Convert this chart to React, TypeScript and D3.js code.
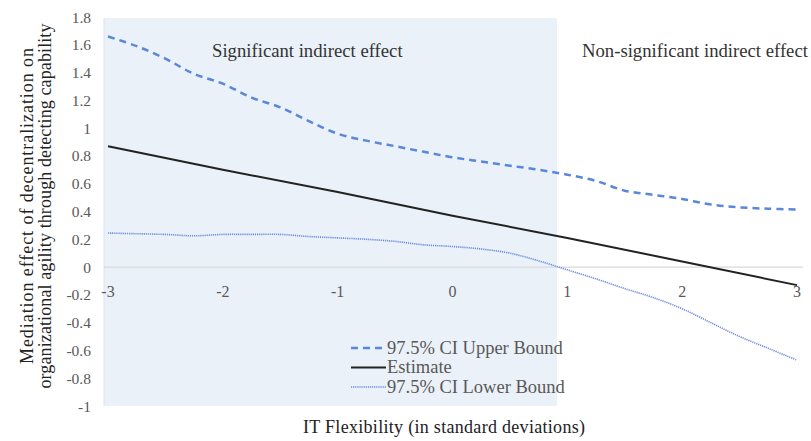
import React from 'react'
import * as d3 from 'd3'

// IT flexibility (standard deviations) at which the curves were read
const itFlex = [
  -3, -2.75, -2.5, -2.25, -2, -1.75, -1.5, -1.25, -1, -0.75, -0.5, -0.25, 0,
  0.25, 0.5, 0.75, 1, 1.25, 1.5, 1.75, 2, 2.25, 2.5, 2.75, 3
]
const upperBound = [
  1.66, 1.59, 1.5, 1.39, 1.32, 1.22, 1.15, 1.05, 0.96, 0.91, 0.87, 0.83, 0.79,
  0.76, 0.73, 0.7, 0.665, 0.62, 0.55, 0.52, 0.49, 0.45, 0.43, 0.42, 0.415
]
const lowerBound = [
  0.245, 0.24, 0.235, 0.225, 0.235, 0.235, 0.235, 0.22, 0.21, 0.2, 0.185,
  0.16, 0.148, 0.13, 0.1, 0.045, -0.02, -0.085, -0.155, -0.22, -0.3, -0.4,
  -0.5, -0.585, -0.67
]
const estimateX = [-3, -2, -1, 0, 1, 2, 3]
const estimate = [0.87, 0.7, 0.54, 0.37, 0.21, 0.04, -0.13]

const xTicks = [-3, -2, -1, 0, 1, 2, 3]
const yTicks = [1.8, 1.6, 1.4, 1.2, 1, 0.8, 0.6, 0.4, 0.2, 0, -0.2, -0.4, -0.6, -0.8, -1]
const regionBoundary = 0.91

const legendItems = [
  { label: '97.5% CI Upper Bound', kind: 'upper' },
  { label: 'Estimate', kind: 'estimate' },
  { label: '97.5% CI Lower Bound', kind: 'lower' }
]

const FONT = "'Liberation Serif', 'DejaVu Serif', serif"
const BLUE = '#5a87d8'
const DOT_BLUE = '#6a8cdc'
const GREY = '#595959'

export default function App() {
  const width = 811
  const height = 441
  const plotLeft = 104
  const plotRight = 803

  const x = d3.scaleLinear().domain([-3, 3]).range([108, 797])
  const y = d3.scaleLinear().domain([-1, 1.8]).range([406, 17])

  const line = d3
    .line<[number, number]>()
    .x(d => x(d[0]))
    .y(d => y(d[1]))
    .curve(d3.curveCatmullRom)

  const upperPath = line(itFlex.map((v, i) => [v, upperBound[i]]))
  const lowerPath = line(itFlex.map((v, i) => [v, lowerBound[i]]))
  const estPath = d3
    .line<[number, number]>()
    .x(d => x(d[0]))
    .y(d => y(d[1]))(estimateX.map((v, i) => [v, estimate[i]]))

  const styles: any = {
    upper: { stroke: BLUE, strokeWidth: 2.5, strokeDasharray: '7,5' },
    estimate: { stroke: '#222', strokeWidth: 2 },
    lower: { stroke: DOT_BLUE, strokeWidth: 1.6, strokeDasharray: '1.2,0.9' }
  }

  return (
    <svg
      width={width}
      height={height}
      style={{ position: 'absolute', left: 0, top: 0, background: '#fff', fontFamily: FONT }}
    >
      {/* significant region */}
      <rect
        x={plotLeft}
        y={y(1.8) + 1}
        width={x(regionBoundary) - plotLeft}
        height={y(-1) - y(1.8) - 1}
        fill="#eaf1f8"
      />
      <line x1={plotLeft} x2={plotLeft} y1={y(1.8) + 1} y2={y(-1)} stroke="#dde3ea" />
      <line x1={plotLeft} x2={plotRight} y1={y(0)} y2={y(0)} stroke="#d9d9d9" strokeWidth={1.2} />

      {yTicks.map(t => (
        <text key={t} x={91} y={y(t) + 5.5} textAnchor="end" fontSize={15.5} fill={GREY}>
          {t}
        </text>
      ))}
      {xTicks.map(t => (
        <text key={t} x={x(t)} y={297} textAnchor="middle" fontSize={16} fill={GREY}>
          {t}
        </text>
      ))}

      <path d={upperPath || ''} fill="none" {...styles.upper} />
      <path d={lowerPath || ''} fill="none" {...styles.lower} />
      <path d={estPath || ''} fill="none" {...styles.estimate} />

      <text x={212} y={57} fontSize={18.7} fill="#333">Significant indirect effect</text>
      <text x={582} y={57} fontSize={18.7} fill="#333">Non-significant indirect effect</text>

      {legendItems.map((d, i) => {
        const ly = 348 + i * 19.5
        return (
          <g key={d.label}>
            <line x1={351} x2={386} y1={ly} y2={ly} {...styles[d.kind]} />
            <text x={387} y={ly + 5.5} fontSize={18.5} fill={GREY}>{d.label}</text>
          </g>
        )
      })}

      <text
        x={444}
        y={433}
        textAnchor="middle"
        fontSize={18}
        fill="#222"
        textLength={282}
        lengthAdjust="spacing"
      >
        IT Flexibility (in standard deviations)
      </text>
      <g transform="translate(33,206) rotate(-90)">
        <text
          x={0}
          y={0}
          textAnchor="middle"
          fontSize={18}
          fill="#222"
          textLength={316}
          lengthAdjust="spacing"
        >
          Mediation effect of decentralization on
        </text>
        <text
          x={0}
          y={18}
          textAnchor="middle"
          fontSize={18}
          fill="#222"
          textLength={365}
          lengthAdjust="spacing"
        >
          organizational agility through detecting capability
        </text>
      </g>
    </svg>
  )
}
